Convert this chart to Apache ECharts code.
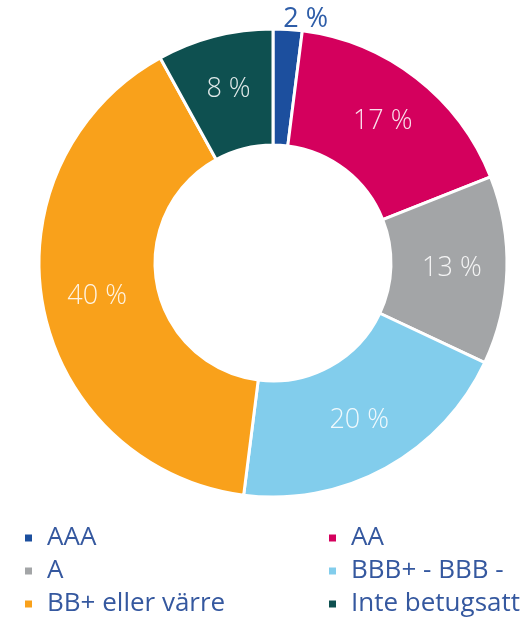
<!DOCTYPE html>
<html>
<head>
<meta charset="utf-8">
<script src="https://cdn.jsdelivr.net/npm/echarts@6/dist/echarts.min.js"></script>
<style>
html,body{margin:0;padding:0;background:#fff;}
#pie1{width:530px;height:623px;}
</style>
</head>
<body>
<div id="pie1"></div>
<script>
// betygsfördelning
var categories = ['AAA', 'AA', 'A', 'BBB+ - BBB -', 'BB+ eller värre', 'Inte betugsatt'];
var values = [2, 17, 13, 20, 40, 8];
var colors = ['#1c4f9e', '#d4005d', '#a3a5a7', '#82cdec', '#f9a11b', '#0e5050'];
var leftCol = ['AAA', 'A', 'BB+ eller värre'];
var rightCol = ['AA', 'BBB+ - BBB -', 'Inte betugsatt'];

(function(){

var pie1 = echarts.init(document.getElementById('pie1'));

var data = [];
for (var i = 0; i < categories.length; i++) {
    var item = {value: values[i], name: categories[i]};
    if (i == 0) {
        // liten skiva: etikett utanför
        item.label = {position: 'outside', color: '#2e5da8', fontWeight: 'normal'};
        item.labelLine = {show: false, length: 10, length2: 0};
    }
    data.push(item);
}

var legendText = {
    color: '#35589f',
    fontSize: 26,
    fontFamily: 'Open Sans',
    lineHeight: 26,
    padding: [0, 0, 0, 9]
};

option = {
    color: colors,
    animation: false,
    legend: [
        {
            orient: 'vertical',
            left: 23,
            top: 525,
            height: 120,
            padding: 0,
            icon: 'rect',
            itemWidth: 9,
            itemHeight: 9,
            itemGap: 7,
            textStyle: legendText,
            data: leftCol
        },
        {
            orient: 'vertical',
            left: 327,
            top: 525,
            height: 120,
            padding: 0,
            icon: 'rect',
            itemWidth: 9,
            itemHeight: 9,
            itemGap: 7,
            textStyle: legendText,
            data: rightCol
        }
    ],
    series: [
        {
            name: 'Betyg',
            type: 'pie',
            radius: [118, 234],
            center: [273, 263],
            startAngle: 90,
            clockwise: true,
            itemStyle: {borderColor: '#fff', borderWidth: 3},
            label: {
                position: 'inside',
                formatter: '{c} %',
                color: 'rgba(255,255,255,0.88)',
                fontSize: 27,
                fontFamily: 'Open Sans',
                fontWeight: 300
            },
            labelLayout: function (params) {
                if (params.dataIndex == 0) {
                    return {dx: -10};
                }
            },
            data: data
        }
    ]
};

pie1.setOption(option);
})();
</script>
</body>
</html>
